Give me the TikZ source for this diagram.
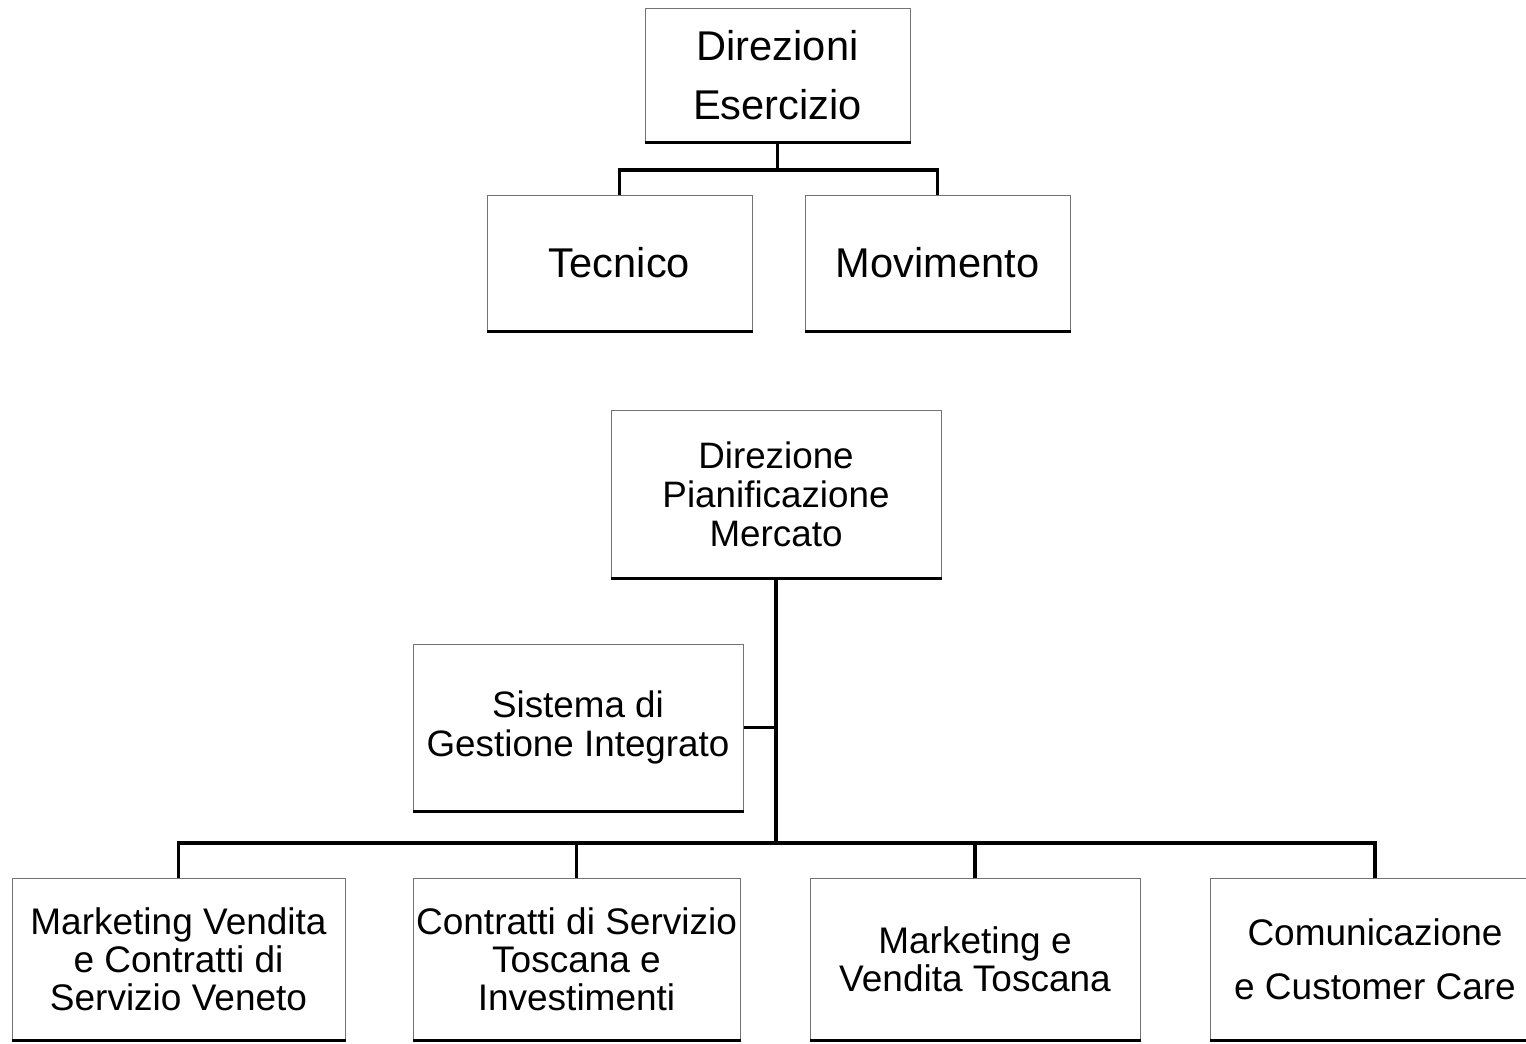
\documentclass[tikz,border=0pt]{standalone}
\usepackage{fontspec}
\setmainfont{Liberation Sans}
\usepackage{tikz}
\tikzset{unit/.style={draw=black!55, line width=0.5pt, align=center, inner sep=0pt,
           append after command={(\tikzlastnode.south west) edge[draw=black, line width=1.5pt] (\tikzlastnode.south east)}},
         topunit/.style={unit, minimum width=132.5pt, minimum height=67pt,
           font=\fontsize{20.8}{29.5}\selectfont},
         midunit/.style={unit, minimum width=165pt, minimum height=83pt,
           font=\fontsize{18.4}{19.5}\selectfont},
         lowunit/.style={unit, minimum width=165pt, minimum height=81pt,
           font=\fontsize{18.5}{19}\selectfont},
         link/.style={line width=1.8pt}}

\begin{document}
\begin{tikzpicture}[x=0.5pt,y=-0.5pt]
\useasboundingbox (0,0) rectangle (1526,1044);
% esercizio
\node[topunit] (esercizio) at (777.5,75) {Direzioni\\Esercizio};
\node[topunit, minimum height=68pt] (tecnico) at (619.5,263) {Tecnico};
\node[topunit, minimum height=68pt] (movimento) at (937.5,263) {Movimento};
\coordinate (esfork) at (777.5,170);
\draw[link] (esercizio.south) -- (esfork);
\draw[link] (esfork) -| (tecnico.north);
\draw[link] (esfork) -| (movimento.north);
% mercato
\node[midunit, minimum height=84pt] (pianificazione) at (776,494) {Direzione\\Pianificazione\\Mercato};
\node[midunit] (sistema) at (578,727.5) {Sistema di\\Gestione Integrato};
\node[lowunit, minimum width=166.5pt] (veneto) at (178.5,959) {Marketing Vendita\\e Contratti di\\Servizio Veneto};
\node[lowunit, minimum width=163.5pt] (investimenti) at (576.5,959) {Contratti di Servizio\\Toscana e\\Investimenti};
\node[lowunit] (vendita) at (975,959) {Marketing e\\Vendita Toscana};
\node[lowunit, font=\fontsize{18.5}{27}\selectfont] (customer) at (1375,959) {Comunicazione\\e Customer Care};
\coordinate (mkfork) at (776,843);
\draw[link] (pianificazione.south) -- (mkfork);
\draw[link] (sistema.east) -- (sistema.east -| pianificazione.south);
\foreach \n in {veneto,investimenti,vendita,customer}
  \draw[link] (mkfork) -| (\n.north);
\end{tikzpicture}
\end{document}
